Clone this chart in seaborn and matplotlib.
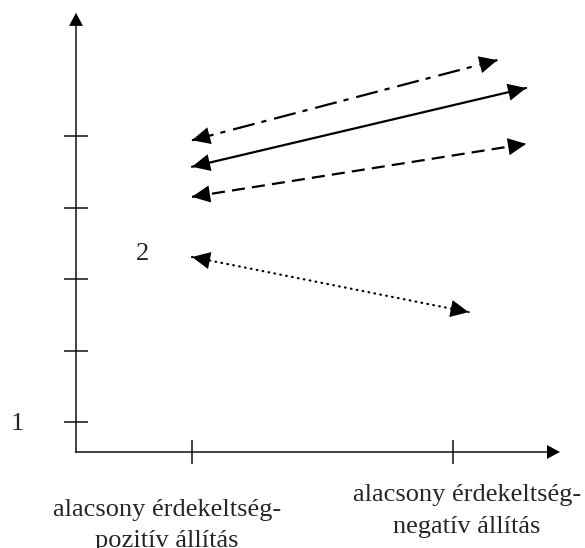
import matplotlib
matplotlib.use("Agg")
import matplotlib.pyplot as plt
import numpy as np
import pandas as pd
import seaborn as sns

# ---- data ----
categories = ["alacsony érdekeltség-\npozitív állítás",
              "alacsony érdekeltség-\nnegatív állítás"]
cat_pos = [1, 2]
y_levels = [1, 2, 3, 4, 5]
series = ["dashdot", "solid", "dashed", "dotted"]
x_start = [1.0, 1.0, 1.0, 1.0]
x_end = [2.17, 2.28, 2.28, 2.06]
y_start = [4.94, 4.57, 4.15, 3.31]
y_end = [6.06, 5.67, 4.89, 2.54]
level_labels = ["1", "2"]

rows = []
for s, xs, xe, ys, ye in zip(series, x_start, x_end, y_start, y_end):
    rows.append({"series": s, "x": xs, "y": ys})
    rows.append({"series": s, "x": xe, "y": ye})
df = pd.DataFrame(rows)

sns.set_theme(style="white")
plt.rcParams["font.family"] = ["Liberation Serif", "DejaVu Serif"]

fig = plt.figure(figsize=(5.85, 5.48), dpi=100)
ax = fig.add_axes([0, 0, 1, 1])
ax.set_facecolor("white")

dashes = {"dashdot": (10, 3.2, 2.3, 3.6), "solid": "", "dashed": (5.9, 3.2), "dotted": (0.3, 2.4)}
sns.lineplot(data=df, x="x", y="y", hue="series", style="series",
             estimator=None, sort=False, palette={s: "black" for s in series},
             dashes=dashes, linewidth=1.6, legend=False, ax=ax)
for ln in ax.lines:
    if list(ln.get_ydata()) == [y_start[3], y_end[3]]:
        ln.set_dash_capstyle("round")

# arrow heads at both ends
head = "-|>,head_length=1.3,head_width=0.62"
for xs, xe, ys, ye in zip(x_start, x_end, y_start, y_end):
    for (a, b) in [((xe, ye), (xs, ys)), ((xs, ys), (xe, ye))]:
        ax.annotate("", xy=a, xytext=b,
                    arrowprops=dict(arrowstyle=head, lw=0, color="black",
                                    shrinkA=0, shrinkB=0, mutation_scale=10))

# axes layout
x0, y0 = 0.5556, 0.587
xtip, ytip = 2.41, 6.72
ax.set_xlim(0.2644, 2.5057)
ax.set_ylim(-0.754, 6.899)
ax.spines["top"].set_visible(False)
ax.spines["right"].set_visible(False)
for sp in ["left", "bottom"]:
    ax.spines[sp].set_color("#111111")
    ax.spines[sp].set_linewidth(1.1)
ax.spines["left"].set_position(("data", x0))
ax.spines["bottom"].set_position(("data", y0))
ax.spines["left"].set_bounds(y0, ytip - 0.1)
ax.spines["bottom"].set_bounds(x0, xtip - 0.05)

axhead = "-|>,head_length=0.94,head_width=0.5"
ax.annotate("", xy=(x0, ytip), xytext=(x0, y0),
            arrowprops=dict(arrowstyle=axhead, lw=0, color="black",
                            shrinkA=0, shrinkB=0, mutation_scale=10))
ax.annotate("", xy=(xtip, y0), xytext=(x0, y0),
            arrowprops=dict(arrowstyle=axhead, lw=0, color="black",
                            shrinkA=0, shrinkB=0, mutation_scale=10))

ax.set_xticks(cat_pos)
ax.set_yticks(y_levels)
ax.tick_params(axis="both", which="major", direction="inout", length=17.3,
               width=1.1, color="#111111", bottom=True, left=True,
               labelbottom=False, labelleft=False)
ax.grid(False)
ax.set_xlabel("")
ax.set_ylabel("")

# text labels
ax.text(0.33, 0.98, level_labels[0], ha="center", va="center", fontsize=19)
ax.text(0.812, 3.35, level_labels[1], ha="center", va="center", fontsize=19)
ax.text(0.904, -0.44, categories[0], ha="center", va="center", fontsize=19,
        linespacing=1.55)
ax.text(2.054, -0.237, categories[1], ha="center", va="center", fontsize=19,
        linespacing=1.55)

fig.savefig("out.png", dpi=100, facecolor="white")
